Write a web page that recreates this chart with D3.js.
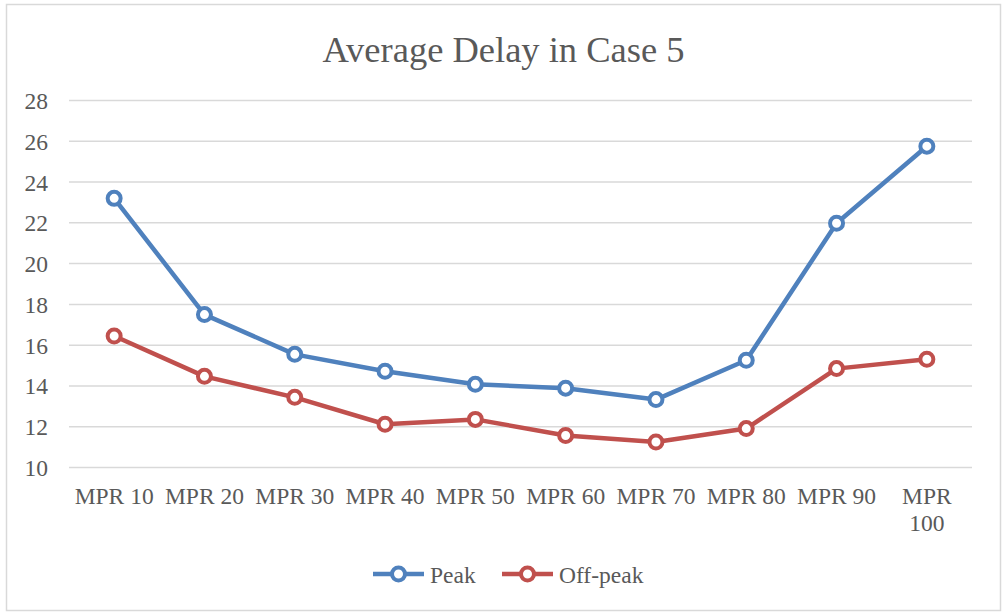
<!DOCTYPE html>
<html>
<head>
<meta charset="utf-8">
<script src="https://cdn.jsdelivr.net/npm/d3@7"></script>
<style>
  html, body { margin: 0; padding: 0; background: #fff; }
  svg { display: block; }
  text { font-family: "Liberation Serif", "Times New Roman", serif; fill: #595959; }
</style>
</head>
<body>
<svg id="chart" width="1003" height="614"></svg>
<script>
// Average delay per MPR level, peak vs off-peak traffic
const categories = ["MPR 10", "MPR 20", "MPR 30", "MPR 40", "MPR 50", "MPR 60", "MPR 70", "MPR 80", "MPR 90", "MPR 100"];
const peak    = [23.2, 17.5, 15.55, 14.72, 14.08, 13.89, 13.33, 15.26, 21.98, 25.76];
const offPeak = [16.45, 14.47, 13.44, 12.12, 12.36, 11.57, 11.25, 11.91, 14.85, 15.31];
const yTicks  = [10, 12, 14, 16, 18, 20, 22, 24, 26, 28];
const seriesNames  = ["Peak", "Off-peak"];
const seriesColors = ["#4F81BD", "#C0504D"];

const svg = d3.select("#chart");
const W = 1003, H = 614;
const plot = { left: 69, right: 972, top: 100.5, bottom: 467.5 };

// outer chart frame
svg.append("rect")
  .attr("x", 6.5).attr("y", 4.5)
  .attr("width", 994).attr("height", 606)
  .attr("fill", "#fff").attr("stroke", "#d9d9d9").attr("stroke-width", 1.5);

// title
svg.append("text")
  .attr("x", 503.5).attr("y", 62)
  .attr("text-anchor", "middle")
  .style("font-size", "36.5px")
  .text("Average Delay in Case 5");

const x = d3.scaleBand().domain(categories).range([plot.left, plot.right]);
const y = d3.scaleLinear().domain([10, 28]).range([plot.bottom, plot.top]);

// horizontal gridlines
svg.append("g").selectAll("line").data(yTicks).join("line")
  .attr("x1", plot.left).attr("x2", plot.right)
  .attr("y1", d => y(d)).attr("y2", d => y(d))
  .attr("stroke", "#d9d9d9").attr("stroke-width", 1.5);

// y axis labels
const yAxis = d3.axisLeft(y).tickValues(yTicks).tickSize(0).tickPadding(0);
const gy = svg.append("g").attr("transform", "translate(48,0)").call(yAxis);
gy.select(".domain").remove();
gy.selectAll("text")
  .attr("x", 0).attr("dy", "0.34em")
  .style("font-size", "23.5px")
  .style("font-family", "Liberation Serif, serif")
  .attr("fill", "#595959");

// x axis category labels (long labels wrap onto two lines)
const xAxis = d3.axisBottom(x).tickSize(0).tickPadding(0);
const gx = svg.append("g").attr("transform", `translate(0,${plot.bottom})`).call(xAxis);
gx.select(".domain").remove();
gx.selectAll("text")
  .attr("y", 0).attr("dy", 0)
  .style("font-size", "23.5px")
  .style("font-family", "Liberation Serif, serif")
  .attr("fill", "#595959")
  .each(function(d) {
    const t = d3.select(this);
    t.text(null);
    const lines = d.length > 6 ? d.split(" ") : [d];
    lines.forEach((ln, i) => {
      t.append("tspan").attr("x", 0).attr("y", 36 + i * 27).text(ln);
    });
  });

// series lines and markers
const series = [peak, offPeak];
const line = d3.line()
  .x((d, i) => x(categories[i]) + x.bandwidth() / 2)
  .y(d => y(d));

series.forEach((vals, s) => {
  const g = svg.append("g");
  g.append("path")
    .datum(vals)
    .attr("d", line)
    .attr("fill", "none")
    .attr("stroke", seriesColors[s])
    .attr("stroke-width", 4.5)
    .attr("stroke-linejoin", "round");
  g.selectAll("circle").data(vals).join("circle")
    .attr("cx", (d, i) => x(categories[i]) + x.bandwidth() / 2)
    .attr("cy", d => y(d))
    .attr("r", 6.5)
    .attr("fill", "#fff")
    .attr("stroke", seriesColors[s])
    .attr("stroke-width", 4);
});

// legend
const legendItems = [
  { name: seriesNames[0], color: seriesColors[0], x: 373 },
  { name: seriesNames[1], color: seriesColors[1], x: 502 }
];
const lg = svg.append("g");
legendItems.forEach(it => {
  const cy = 574;
  lg.append("line")
    .attr("x1", it.x).attr("x2", it.x + 51)
    .attr("y1", cy).attr("y2", cy)
    .attr("stroke", it.color).attr("stroke-width", 4.5);
  lg.append("circle")
    .attr("cx", it.x + 25.5).attr("cy", cy).attr("r", 6.5)
    .attr("fill", "#fff").attr("stroke", it.color).attr("stroke-width", 4);
  lg.append("text")
    .attr("x", it.x + 57).attr("y", cy + 8.5)
    .style("font-size", "23.5px")
    .text(it.name);
});
</script>
</body>
</html>
